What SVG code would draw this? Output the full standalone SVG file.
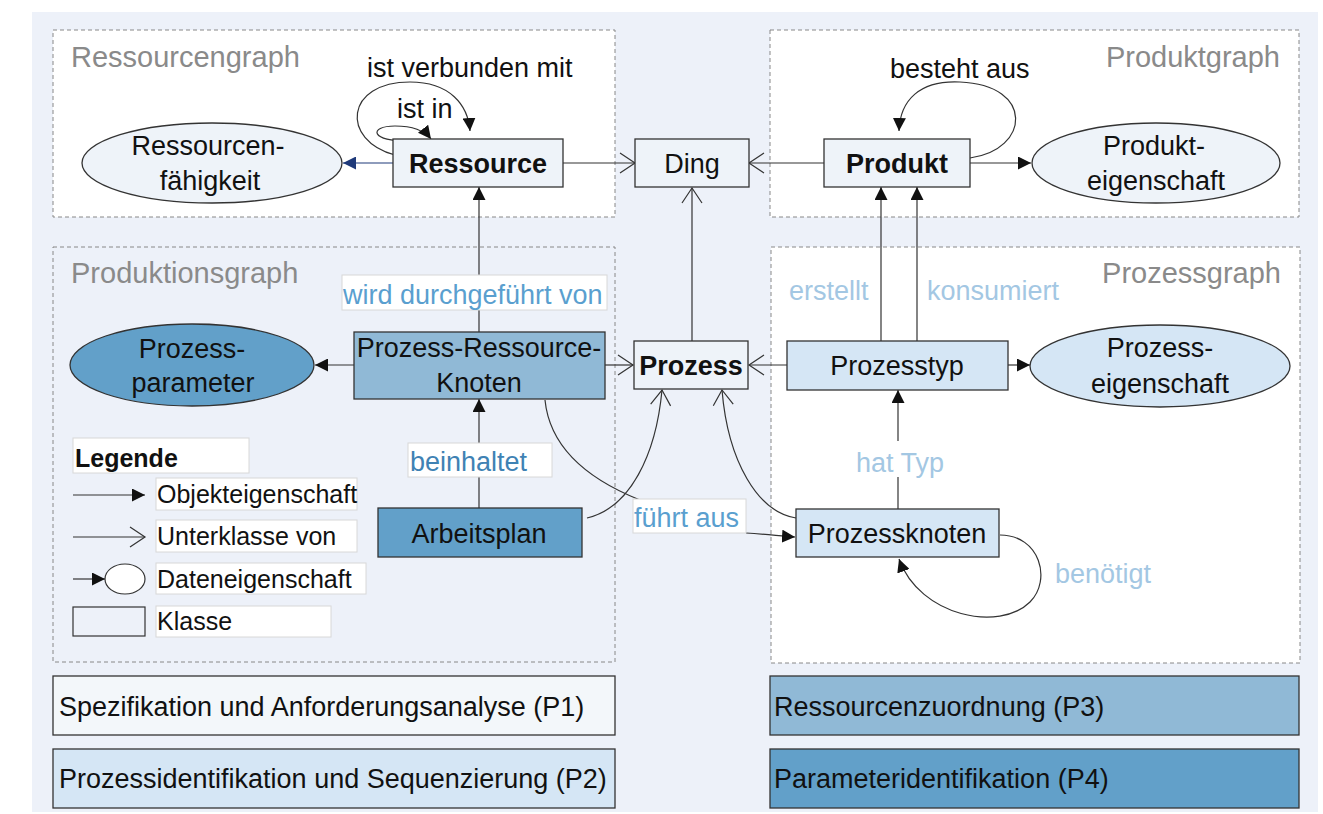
<svg xmlns="http://www.w3.org/2000/svg" width="1323" height="814" viewBox="0 0 1323 814">
  <style>
    text { font-family: "Liberation Sans", Arial, sans-serif; }
    .node { stroke: #333; stroke-width: 1.3; }
    .lite { fill: #eef3f9; }
    .pale { fill: #d5e6f5; }
    .mid { fill: #90b9d6; }
    .deep { fill: #62a0c9; }
    .t { font-size: 27px; fill: #111; text-anchor: middle; }
    .b { font-weight: bold; }
    .title { font-size: 29px; fill: #8a8a8a; }
    .group { stroke: #888; stroke-width: 1; stroke-dasharray: 4 3; }
    .edge { fill: none; stroke: #333; stroke-width: 1.2; }
    .lbl { font-size: 27px; }
    .lblbox { fill: #fff; stroke: #d8d8d8; stroke-width: 1; }
    .blue { fill: #5a9fcf; }
    .dblue { fill: #3f82b4; }
    .light { fill: #a3c7e3; }
    .dark { fill: #111; }
    .leg { font-size: 25px; fill: #111; }
    .legbox { fill: #fff; stroke: #d8d8d8; stroke-width: 1; }
    .phase { font-size: 27px; fill: #111; }
  </style>
  <defs>
    <marker id="filled" viewBox="0 0 13 13" refX="13" refY="6.5" markerWidth="13" markerHeight="13" markerUnits="userSpaceOnUse" orient="auto">
      <path d="M0,0 L13,6.5 L0,13 z" fill="#111"/>
    </marker>
    <marker id="filledBlue" viewBox="0 0 13 13" refX="13" refY="6.5" markerWidth="13" markerHeight="13" markerUnits="userSpaceOnUse" orient="auto">
      <path d="M0,0 L13,6.5 L0,13 z" fill="#1f3a7a"/>
    </marker>
    <marker id="open" viewBox="0 0 18 22" refX="16" refY="11" markerWidth="18" markerHeight="22" markerUnits="userSpaceOnUse" orient="auto">
      <path d="M1,1 L16,11 L1,21" fill="none" stroke="#333" stroke-width="1.2"/>
    </marker>
  </defs>

  <!-- canvas -->
  <rect x="32" y="12" width="1286" height="800" fill="#edf1f9"/>

  <!-- graph areas -->
  <g id="ressourcengraph">
    <rect class="group" x="53" y="30" width="562" height="187" fill="#fff"/>
    <text class="title" x="71" y="67">Ressourcengraph</text>
  </g>
  <g id="produktgraph">
    <rect class="group" x="770" y="30" width="529" height="187" fill="#fff"/>
    <text class="title" x="1280" y="67" text-anchor="end">Produktgraph</text>
  </g>
  <g id="produktionsgraph">
    <rect class="group" x="53" y="247" width="562" height="415" fill="#edf1f9"/>
    <text class="title" x="71" y="283">Produktionsgraph</text>
  </g>
  <g id="prozessgraph">
    <rect class="group" x="771" y="247" width="529" height="416" fill="#fff"/>
    <text class="title" x="1281" y="283" text-anchor="end">Prozessgraph</text>
  </g>

  <!-- connectors -->
  <g id="connectors">
    <line x1="393" y1="163" x2="343" y2="163" fill="none" stroke="#1f3a7a" stroke-width="1.2" marker-end="url(#filledBlue)"/>
    <line class="edge" x1="563" y1="163" x2="635" y2="163" marker-end="url(#open)"/>
    <line class="edge" x1="824" y1="163" x2="749" y2="163" marker-end="url(#open)"/>
    <line class="edge" x1="970" y1="163" x2="1031" y2="163" marker-end="url(#filled)"/>
    <path class="edge" d="M395,155 C340,140 345,82 410,82 C450,82 468,105 470,131" marker-end="url(#filled)"/>
    <path class="edge" d="M410,141 C370,142 368,126 395,126 C412,126 424,130 431,139" marker-end="url(#filled)"/>
    <path class="edge" d="M970,158 C1030,150 1035,85 960,82 C920,80 900,100 899,131" marker-end="url(#filled)"/>
    <line class="edge" x1="479" y1="332" x2="479" y2="187" marker-end="url(#filled)"/>
    <line class="edge" x1="692" y1="341" x2="692" y2="188" marker-end="url(#open)"/>
    <line class="edge" x1="354" y1="365" x2="315" y2="365" marker-end="url(#filled)"/>
    <line class="edge" x1="605" y1="365" x2="633" y2="365" marker-end="url(#open)"/>
    <line class="edge" x1="787" y1="365" x2="749" y2="365" marker-end="url(#open)"/>
    <line class="edge" x1="1008" y1="365" x2="1030" y2="365" marker-end="url(#filled)"/>
    <line class="edge" x1="881" y1="341" x2="881" y2="187" marker-end="url(#filled)"/>
    <line class="edge" x1="917" y1="341" x2="917" y2="187" marker-end="url(#filled)"/>
    <line class="edge" x1="898" y1="509" x2="898" y2="390" marker-end="url(#filled)"/>
    <line class="edge" x1="479" y1="508" x2="479" y2="399" marker-end="url(#filled)"/>
    <path class="edge" d="M587,518 C630,508 656,455 662,390" marker-end="url(#open)"/>
    <path class="edge" d="M796,518 C758,512 728,462 722,390" marker-end="url(#open)"/>
    <path class="edge" d="M545,400 C550,450 590,480 640,500" />
    <path class="edge" d="M746,533 C765,534 780,536 795,537" marker-end="url(#filled)"/>
    <path class="edge" d="M1000,535 C1040,535 1052,580 1030,602 C1000,632 920,617 899,559" marker-end="url(#filled)"/>
  </g>

  <!-- connector labels -->
  <g id="edge-labels">
    <text class="lbl dark" x="367" y="77">ist verbunden mit</text>
    <text class="lbl dark" x="397" y="118">ist in</text>
    <text class="lbl dark" x="890" y="78">besteht aus</text>
    <rect class="lblbox" x="342" y="275" width="265" height="35"/>
    <text class="lbl blue" x="343" y="304">wird durchgeführt von</text>
    <text class="lbl light" x="789" y="300">erstellt</text>
    <text class="lbl light" x="927" y="300">konsumiert</text>
    <rect class="lblbox" x="408" y="443" width="144" height="34"/>
    <text class="lbl dblue" x="410" y="471">beinhaltet</text>
    <rect x="872" y="441" width="54" height="36" fill="#fff"/>
    <text class="lbl light" x="856" y="472">hat Typ</text>
    <rect class="lblbox" x="633" y="499" width="113" height="34"/>
    <text class="lbl blue" x="634" y="527">führt aus</text>
    <text class="lbl light" x="1055" y="583">benötigt</text>
  </g>

  <!-- nodes -->
  <g id="ressourcenfaehigkeit">
    <ellipse class="node lite" cx="212" cy="163" rx="130" ry="40"/>
    <text class="t" x="208" y="155">Ressourcen-</text>
    <text class="t" x="210" y="190">fähigkeit</text>
  </g>
  <g id="ressource">
    <rect class="node lite" x="393" y="139" width="170" height="48"/>
    <text class="t b" x="478" y="173">Ressource</text>
  </g>
  <g id="ding">
    <rect class="node lite" x="635" y="139" width="114" height="48"/>
    <text class="t" x="692" y="173">Ding</text>
  </g>
  <g id="produkt">
    <rect class="node lite" x="824" y="139" width="146" height="48"/>
    <text class="t b" x="897" y="173">Produkt</text>
  </g>
  <g id="produkteigenschaft">
    <ellipse class="node lite" cx="1156" cy="163" rx="124" ry="40"/>
    <text class="t" x="1154" y="155">Produkt-</text>
    <text class="t" x="1156" y="190">eigenschaft</text>
  </g>
  <g id="prozessparameter">
    <ellipse class="node deep" cx="192" cy="365" rx="122" ry="41"/>
    <text class="t" x="192" y="358">Prozess-</text>
    <text class="t" x="193" y="392">parameter</text>
  </g>
  <g id="prozess-ressource-knoten">
    <rect class="node mid" x="354" y="332" width="251" height="67"/>
    <text class="t" x="479" y="357">Prozess-Ressource-</text>
    <text class="t" x="479" y="392">Knoten</text>
  </g>
  <g id="prozess">
    <rect class="node lite" x="634" y="341" width="114" height="48"/>
    <text class="t b" x="691" y="375">Prozess</text>
  </g>
  <g id="prozesstyp">
    <rect class="node pale" x="787" y="341" width="221" height="49"/>
    <text class="t" x="897" y="375">Prozesstyp</text>
  </g>
  <g id="prozesseigenschaft">
    <ellipse class="node pale" cx="1160" cy="366" rx="130" ry="41"/>
    <text class="t" x="1160" y="357">Prozess-</text>
    <text class="t" x="1160" y="393">eigenschaft</text>
  </g>
  <g id="arbeitsplan">
    <rect class="node deep" x="378" y="508" width="204" height="49"/>
    <text class="t" x="479" y="543">Arbeitsplan</text>
  </g>
  <g id="prozessknoten">
    <rect class="node pale" x="796" y="509" width="203" height="48"/>
    <text class="t" x="897" y="543">Prozessknoten</text>
  </g>

  <!-- legend -->
  <g id="legende">
    <rect class="legbox" x="73" y="438" width="176" height="35"/>
    <text class="leg b" x="75" y="467">Legende</text>
    <line class="edge" x1="73" y1="495" x2="145" y2="495" marker-end="url(#filled)"/>
    <rect class="legbox" x="156" y="478" width="201" height="32"/>
    <text class="leg" x="157" y="503">Objekteigenschaft</text>
    <line class="edge" x1="73" y1="537" x2="145" y2="537" marker-end="url(#open)"/>
    <rect class="legbox" x="156" y="520" width="201" height="32"/>
    <text class="leg" x="157" y="545">Unterklasse von</text>
    <line class="edge" x1="73" y1="579" x2="105" y2="579" marker-end="url(#filled)"/>
    <ellipse cx="125" cy="579" rx="20" ry="15" fill="#fff" stroke="#333" stroke-width="1.2"/>
    <rect class="legbox" x="156" y="563" width="210" height="31"/>
    <text class="leg" x="157" y="588">Dateneigenschaft</text>
    <rect x="73" y="607" width="72" height="29" fill="#edf1f9" stroke="#333" stroke-width="1.2"/>
    <rect class="legbox" x="156" y="606" width="175" height="31"/>
    <text class="leg" x="157" y="630">Klasse</text>
  </g>

  <!-- phases -->
  <g id="phase-p1">
    <rect class="node" x="53" y="676" width="562" height="59" fill="#f3f7fa"/>
    <text class="phase" x="59" y="716">Spezifikation und Anforderungsanalyse (P1)</text>
  </g>
  <g id="phase-p2">
    <rect class="node pale" x="53" y="749" width="562" height="59"/>
    <text class="phase" x="59" y="788">Prozessidentifikation und Sequenzierung (P2)</text>
  </g>
  <g id="phase-p3">
    <rect class="node mid" x="770" y="676" width="529" height="59"/>
    <text class="phase" x="774" y="716">Ressourcenzuordnung (P3)</text>
  </g>
  <g id="phase-p4">
    <rect class="node deep" x="770" y="749" width="529" height="59"/>
    <text class="phase" x="774" y="788">Parameteridentifikation (P4)</text>
  </g>
</svg>
